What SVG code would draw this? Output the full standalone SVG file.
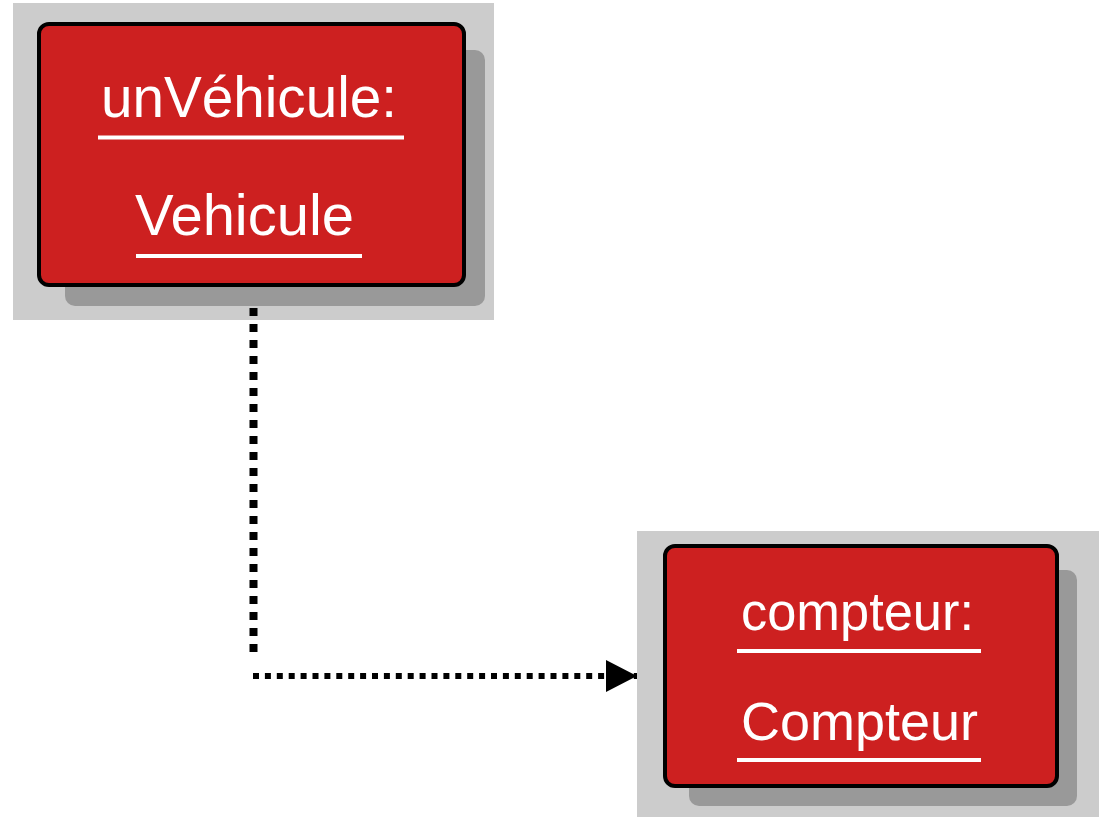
<svg xmlns="http://www.w3.org/2000/svg" width="1099" height="817" viewBox="0 0 1099 817">
  <defs>
    <style>
      .bg { fill: #cccccc; }
      .shadow { fill: #999999; }
      .box { fill: #cd2020; stroke: #000000; stroke-width: 4; }
      .lbl { fill: #ffffff; font-family: "Liberation Sans", Arial, sans-serif; font-size: 57px; }
      .ul { stroke: #ffffff; stroke-width: 4; }
      .conn { fill: none; stroke: #000000; }
    </style>
    <marker id="arrow" markerUnits="userSpaceOnUse" markerWidth="32" markerHeight="32" refX="31" refY="16" orient="auto">
      <path d="M0,0 L31,16 L0,32 Z" fill="#000000"/>
    </marker>
  </defs>
  <rect width="1099" height="817" fill="#ffffff"/>

  <g id="node-unVehicule">
    <rect class="bg" x="13" y="3" width="481" height="317"/>
    <rect class="shadow" x="65" y="50" width="420" height="256" rx="10"/>
    <rect class="box" x="39" y="24" width="425" height="261" rx="10"/>
    <text class="lbl" x="101" y="117" textLength="296" lengthAdjust="spacingAndGlyphs">unVéhicule:</text>
    <line class="ul" x1="98" y1="137.5" x2="404" y2="137.5"/>
    <text class="lbl" x="135" y="235" textLength="219" lengthAdjust="spacingAndGlyphs">Vehicule</text>
    <line class="ul" x1="136" y1="256" x2="362" y2="256"/>
  </g>

  <g id="node-compteur">
    <rect class="bg" x="637" y="531" width="462" height="286"/>
    <rect class="shadow" x="689" y="570" width="388" height="236" rx="10"/>
    <rect class="box" x="665" y="546" width="392" height="240" rx="10"/>
    <text class="lbl" x="741" y="630" textLength="233" lengthAdjust="spacingAndGlyphs" style="font-size:54px">compteur:</text>
    <line class="ul" x1="737" y1="651" x2="981" y2="651"/>
    <text class="lbl" x="741" y="740" textLength="237" lengthAdjust="spacingAndGlyphs" style="font-size:54px">Compteur</text>
    <line class="ul" x1="737" y1="760" x2="981" y2="760"/>
  </g>

  <g id="connectors">
    <path class="conn" d="M253.5,308 L253.5,652" stroke-width="8" stroke-dasharray="8 8"/>
    <path class="conn" d="M253,676 L637,676" stroke-width="6" stroke-dasharray="6 5.9" marker-end="url(#arrow)"/>
  </g>
</svg>
